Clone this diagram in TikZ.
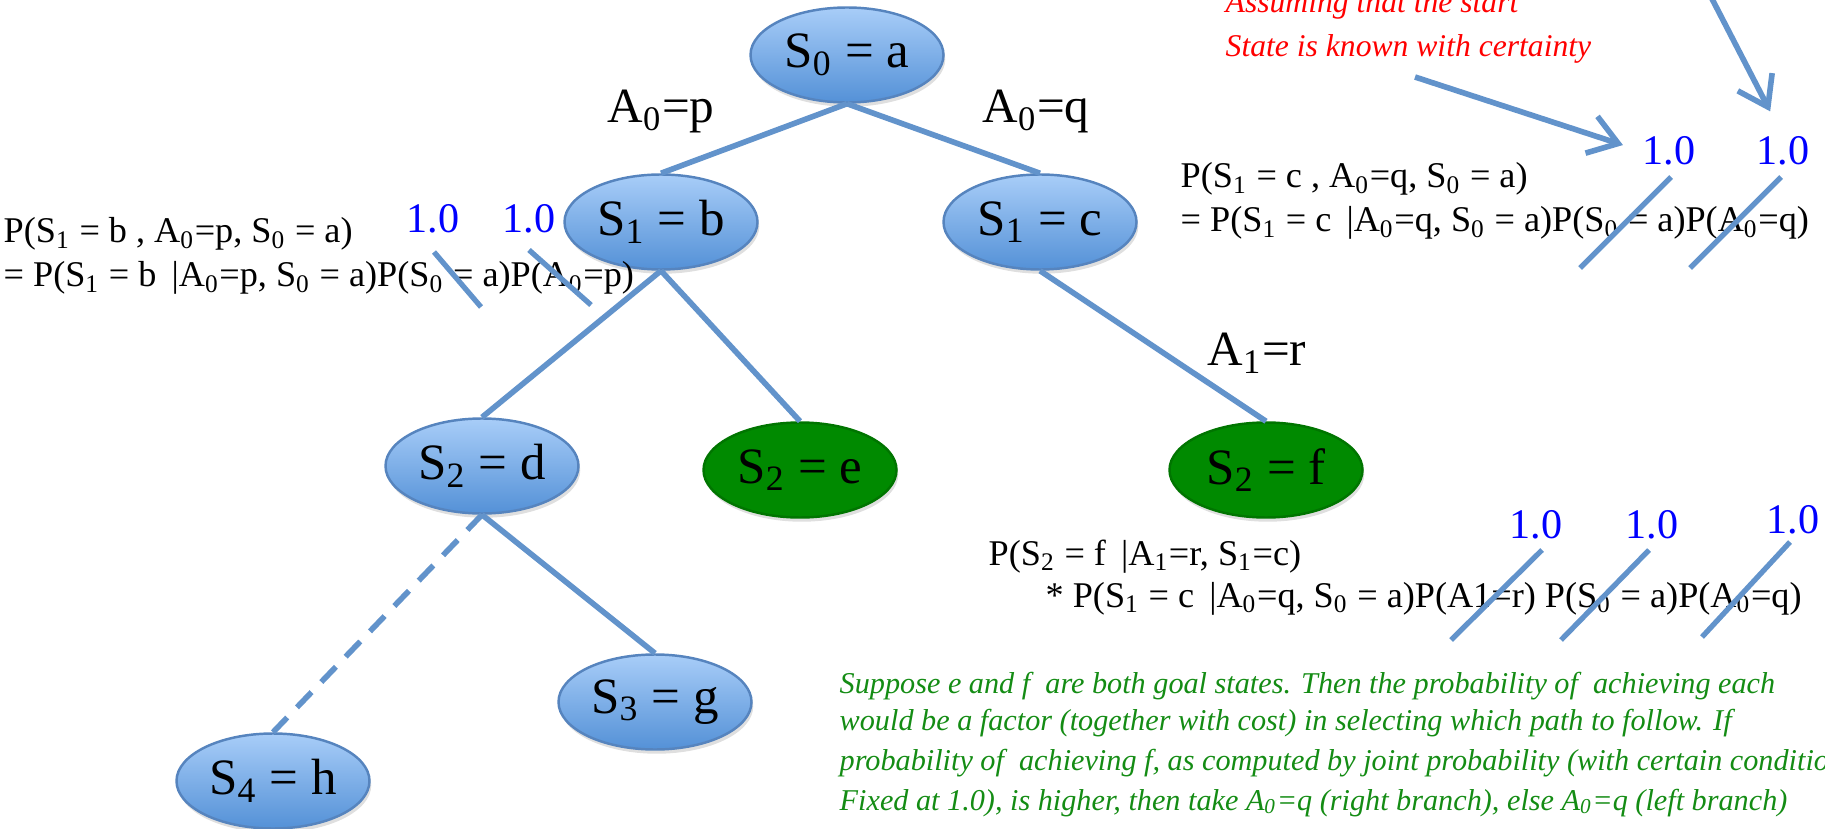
\documentclass[tikz,border=0pt]{standalone}
\usepackage{fontspec}
\setmainfont{Liberation Serif}
\usepackage{tikz}
\usetikzlibrary{shapes.geometric,arrows.meta,shadows}
\usepackage{xcolor}
\definecolor{nodetop}{RGB}{168,205,248}
\definecolor{nodebot}{RGB}{84,145,215}
\definecolor{nodeline}{RGB}{86,132,190}
\definecolor{goalgreen}{RGB}{0,138,0}
\definecolor{linkblue}{RGB}{98,147,203}
\definecolor{notegreen}{RGB}{20,140,20}
\newcommand{\Sn}[1]{S\textsubscript{#1}}
\newcommand{\An}[1]{A\textsubscript{#1}}

\begin{document}
\begin{tikzpicture}[
  state/.style={ellipse,draw=nodeline,line width=0.7pt,top color=nodetop,bottom color=nodebot,
                minimum width=1.93cm,minimum height=0.95cm,inner sep=0pt,
                font=\fontsize{14.5}{17}\selectfont,
                drop shadow={shadow xshift=0.5pt,shadow yshift=-1.2pt,opacity=0.25}},
  goal/.style={state,top color=goalgreen,bottom color=goalgreen,draw=goalgreen!85!black},
  link/.style={draw=linkblue,line width=1.6pt},
  strike/.style={draw=linkblue,line width=1.5pt},
  pointer/.style={-{Straight Barb[length=8pt,width=11pt]},draw=linkblue,line width=1.6pt},
  act/.style={inner sep=0pt,font=\fontsize{14}{17}\selectfont},
  formula/.style={anchor=base west,inner sep=0pt,font=\fontsize{10.3}{12.5}\selectfont},
  one/.style={anchor=base,inner sep=0pt,text=blue,font=\fontsize{12}{14}\selectfont},
  note/.style={anchor=base west,inner sep=0pt,font=\itshape\fontsize{9}{11}\selectfont}
]
\useasboundingbox (0,0) rectangle (18.25,-8.29);

% search tree
\node[state] (sa) at (8.47,-0.55) {\Sn{0} = a};
\node[state] (sb) at (6.61,-2.22) {\Sn{1} = b};
\node[state] (sc) at (10.40,-2.22) {\Sn{1} = c};
\node[state] (sd) at (4.82,-4.66) {\Sn{2} = d};
\node[goal]  (se) at (8.00,-4.70) {\Sn{2} = e};
\node[goal]  (sf) at (12.66,-4.70) {\Sn{2} = f};
\node[state] (sg) at (6.55,-7.02) {\Sn{3} = g};
\node[state] (sh) at (2.73,-7.81) {\Sn{4} = h};

\draw[link] (sa.south) -- (sb.north);
\draw[link] (sa.south) -- (sc.north);
\draw[link] (sb.south) -- (sd.north);
\draw[link] (sb.south) -- (se.north);
\draw[link] (sc.south) -- (sf.north);
\draw[link] (sd.south) -- (sg.north);
\draw[link,dash pattern=on 6pt off 4pt] (sd.south) -- (sh.north);

\node[act] (lp) at (6.61,-1.12) {\An{0}=p};
\node[act] (lq) at (10.36,-1.12) {\An{0}=q};
\node[act] (lr) at (12.57,-3.53) {\An{1}=r};

% joint probabilities
\node[formula] (pb1) at (0.03,-2.43) {P(\Sn{1} = b , \An{0}=p, \Sn{0} = a)};
\node[formula] (pb2) at (0.03,-2.87) {= P(\Sn{1} = b \,|\An{0}=p, \Sn{0} = a)P(\Sn{0} = a)P(\An{0}=p)};
\node[one] (pbs) at (4.33,-2.33) {1.0};
\node[one] (pba) at (5.29,-2.33) {1.0};
\draw[strike] (4.34,-2.52) -- (4.81,-3.07);
\draw[strike] (5.29,-2.50) -- (5.91,-3.05);

\node[formula] (pc1) at (11.80,-1.88) {P(\Sn{1} = c , \An{0}=q, \Sn{0} = a)};
\node[formula] (pc2) at (11.80,-2.32) {= P(\Sn{1} = c \,|\An{0}=q, \Sn{0} = a)P(\Sn{0} = a)P(\An{0}=q)};
\node[one] (pcs) at (16.69,-1.65) {1.0};
\node[one] (pca) at (17.83,-1.65) {1.0};
\draw[strike] (16.71,-1.77) -- (15.80,-2.68);
\draw[strike] (17.81,-1.77) -- (16.90,-2.68);

\node[formula] (pf1) at (9.88,-5.65) {P(\Sn{2} = f \,|\An{1}=r, \Sn{1}=c)};
\node[formula] (pf2) at (10.45,-6.07) {* P(\Sn{1} = c \,|\An{0}=q, \Sn{0} = a)P(A1=r) P(\Sn{0} = a)P(\An{0}=q)};
\node[one] (pfr) at (15.36,-5.38) {1.0};
\node[one] (pfs) at (16.52,-5.38) {1.0};
\node[one] (pfa) at (17.93,-5.33) {1.0};
\draw[strike] (15.42,-5.50) -- (14.51,-6.40);
\draw[strike] (16.49,-5.50) -- (15.61,-6.40);
\draw[strike] (17.90,-5.42) -- (17.02,-6.37);

% notes
\node[note,text=red] (nt1) at (12.25,-0.13) {Assuming that the start};
\node[note,text=red] (nt2) at (12.25,-0.57) {State is known with certainty};
\coordinate (arrA) at (14.15,-0.77);
\coordinate (arrB) at (17.10,0.05);
\draw[pointer,shorten >=0.2cm] (arrA) -- (pcs.west);
\draw[pointer,shorten >=0.28cm] (arrB) -- (pca.north);

\node[note,text=notegreen,font=\itshape\fontsize{8.6}{11}\selectfont] (gn1) at (8.39,-6.93)
  {Suppose e and f~ are both goal states. Then the probability of~ achieving each};
\node[note,text=notegreen,font=\itshape\fontsize{8.6}{11}\selectfont] (gn2) at (8.39,-7.30)
  {would be a factor (together with cost) in selecting which path to follow. If};
\node[note,text=notegreen,font=\itshape\fontsize{8.6}{11}\selectfont] (gn3) at (8.39,-7.70)
  {probability of~ achieving f, as computed by joint probability (with certain conditions};
\node[note,text=notegreen,font=\itshape\fontsize{8.6}{11}\selectfont] (gn4) at (8.39,-8.10)
  {Fixed at 1.0), is higher, then take \An{0}=q (right branch), else \An{0}=q (left branch)};
\end{tikzpicture}
\end{document}
